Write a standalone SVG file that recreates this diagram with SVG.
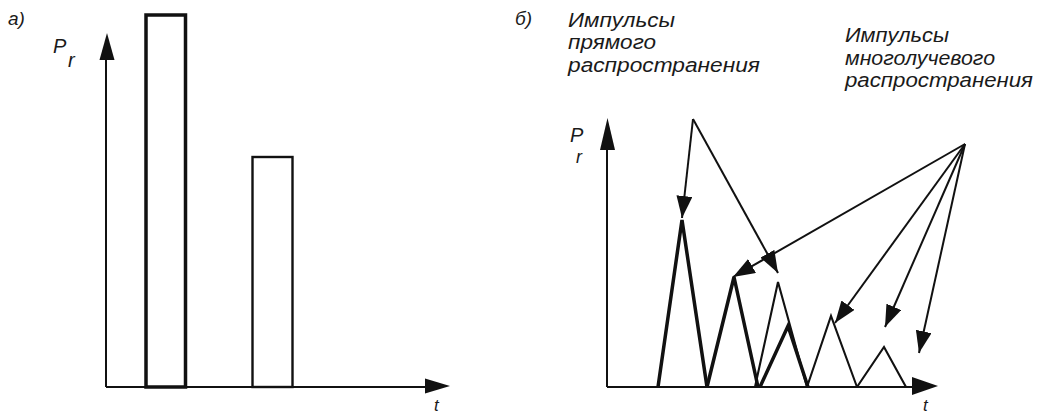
<svg xmlns="http://www.w3.org/2000/svg" width="1040" height="416" viewBox="0 0 1040 416">
  <style>
    .txt { font-family: "Liberation Sans", Arial, sans-serif; font-style: italic; fill: #1a1a1a; }
    .lbl { font-size: 20px; }
    .ax { stroke: #111; stroke-width: 2; fill: none; }
    .head { fill: #111; stroke: none; }
    .thick { stroke: #111; stroke-width: 3.5; fill: none; stroke-linejoin: miter; }
    .thin { stroke: #111; stroke-width: 2.1; fill: none; stroke-linejoin: miter; }
    .arr { stroke: #111; stroke-width: 2; fill: none; marker-end: url(#ah); }
  </style>
  <defs>
    <marker id="ah" viewBox="0 0 22 16" refX="22" refY="8" markerWidth="22" markerHeight="16" markerUnits="userSpaceOnUse" orient="auto">
      <path d="M0,0 L22,8 L0,16 z" fill="#111"/>
    </marker>
  </defs>
  <rect width="1040" height="416" fill="#fff"/>

  <!-- Panel a -->
  <g id="panel-a">
    <text class="txt" x="8" y="25" font-size="19">а)</text>
    <g id="axes-a">
      <line class="ax" x1="106" y1="387" x2="106" y2="55"/>
      <polygon class="head" points="107,33 99.5,60 114.5,60"/>
      <line class="ax" x1="106" y1="387" x2="428" y2="387"/>
      <polygon class="head" points="450,386 425,378.5 425,393.5"/>
      <text class="txt" x="53" y="53" font-size="20">P<tspan x="68" dy="14">r</tspan></text>
      <text class="txt" x="434" y="411" font-size="17">t</text>
    </g>
    <g id="bar-direct">
      <rect class="thick" x="146" y="15" width="39.5" height="372"/>
    </g>
    <g id="bar-multipath">
      <rect x="252.5" y="157" width="40" height="230" stroke="#111" stroke-width="2.4" fill="none"/>
    </g>
  </g>

  <!-- Panel b -->
  <g id="panel-b">
    <text class="txt" x="515" y="25" font-size="19">б)</text>
    <g id="axes-b">
      <line class="ax" x1="607" y1="387" x2="607" y2="140"/>
      <polygon class="head" points="607.5,118 600,150 615,150"/>
      <line class="ax" x1="607" y1="387" x2="915" y2="387"/>
      <polygon class="head" points="938,386 912,377 912,395"/>
      <text class="txt" x="570" y="142" font-size="20">P</text>
      <text class="txt" x="576" y="163" font-size="18">r</text>
      <text class="txt" x="923" y="411" font-size="17">t</text>
    </g>
    <g id="label-direct">
      <text class="txt lbl" x="568" y="26.5" textLength="107" lengthAdjust="spacingAndGlyphs">Импульсы</text>
      <text class="txt lbl" x="568" y="49" textLength="88" lengthAdjust="spacingAndGlyphs">прямого</text>
      <text class="txt lbl" x="568" y="71.5" textLength="192" lengthAdjust="spacingAndGlyphs">распространения</text>
    </g>
    <g id="label-multipath">
      <text class="txt lbl" x="845" y="42" textLength="104" lengthAdjust="spacingAndGlyphs">Импульсы</text>
      <text class="txt lbl" x="845" y="64.5" textLength="150" lengthAdjust="spacingAndGlyphs">многолучевого</text>
      <text class="txt lbl" x="845" y="87" textLength="188" lengthAdjust="spacingAndGlyphs">распространения</text>
    </g>
    <g id="pulses">
      <polyline id="pulse1" class="thick" points="658,387 682,220 707,387"/>
      <polyline id="pulse2" class="thick" points="707,387 734,277 758,387"/>
      <polyline id="pulse3" class="thin" points="755,387 778,282 807,387"/>
      <polyline id="pulse4" class="thick" points="760,387 788,326 808,387"/>
      <polyline id="pulse5" class="thin" points="807,387 831,316 857,387"/>
      <polyline id="pulse6" class="thin" points="857,387 884,347 906,387"/>
    </g>
  </g>

  <g id="connectors">
    <line class="arr" x1="693" y1="119" x2="682" y2="218"/>
    <line class="arr" x1="693" y1="119" x2="778" y2="273"/>
    <line class="arr" x1="965" y1="144" x2="733" y2="277"/>
    <line class="arr" x1="965" y1="144" x2="835" y2="323"/>
    <line class="arr" x1="965" y1="144" x2="885" y2="327"/>
    <line class="arr" x1="965" y1="144" x2="919" y2="353"/>
  </g>
</svg>
